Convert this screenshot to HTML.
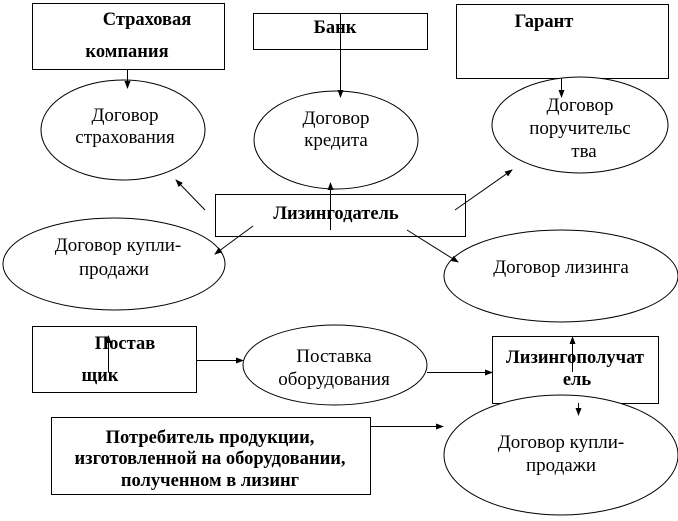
<!DOCTYPE html>
<html><head><meta charset="utf-8"><style>
html,body{margin:0;padding:0;background:#fff;}
svg{display:block;}
text{font-family:"Liberation Serif","Noto Serif CJK SC",serif;font-size:19px;fill:#000;}
.b{font-weight:bold;font-size:18.5px;}
</style></head><body>
<svg width="678" height="521" viewBox="0 0 678 521" xmlns="http://www.w3.org/2000/svg">
<defs><marker id="a" markerWidth="8" markerHeight="8" refX="7" refY="4" orient="auto" markerUnits="userSpaceOnUse"><path d="M0,1 L8,4 L0,7 z" fill="#000"/></marker></defs>
<g fill="#fff" stroke="#000" stroke-width="1">
<rect x="32.5" y="3.5" width="192" height="66"/>
<rect x="253.5" y="13.5" width="174" height="36"/>
<rect x="456.5" y="4.5" width="212" height="74"/>
<ellipse cx="123" cy="130" rx="82" ry="50"/>
<ellipse cx="336" cy="140" rx="82" ry="49"/>
<ellipse cx="580" cy="125" rx="88" ry="48"/>
<rect x="215.5" y="194.5" width="250" height="42"/>
<ellipse cx="114" cy="264" rx="111" ry="46"/>
<ellipse cx="561" cy="276" rx="117" ry="46"/>
<rect x="32.5" y="326.5" width="164" height="66"/>
<ellipse cx="335" cy="365" rx="92" ry="40"/>
<rect x="492.5" y="336.5" width="166" height="67"/>
<rect x="51.5" y="417.5" width="319" height="77"/>
<ellipse cx="561" cy="455" rx="117" ry="60"/>
</g>
<g stroke="#000" stroke-width="1" fill="none" marker-end="url(#a)">
<line x1="127.5" y1="69" x2="127.5" y2="88"/>
<line x1="340.5" y1="13" x2="340.5" y2="97"/>
<line x1="561.5" y1="78" x2="561.5" y2="97"/>
<line x1="330.5" y1="230" x2="330.5" y2="183"/>
<line x1="205" y1="210" x2="176" y2="180"/>
<line x1="455" y1="210" x2="512" y2="170"/>
<line x1="253" y1="226" x2="215" y2="254"/>
<line x1="407" y1="230" x2="458" y2="262"/>
<line x1="196" y1="360.5" x2="243" y2="360.5"/>
<line x1="427" y1="372.5" x2="492" y2="372.5"/>
<line x1="572.5" y1="372" x2="572.5" y2="337"/>
<line x1="578.5" y1="403" x2="578.5" y2="415"/>
<line x1="370" y1="426.5" x2="443" y2="426.5"/>
<line x1="108.5" y1="372" x2="108.5" y2="336"/>
</g>
<text class="b" x="147" y="25" text-anchor="middle">Страховая</text>
<text class="b" x="127" y="57" text-anchor="middle">компания</text>
<text class="b" x="335" y="33" text-anchor="middle">Банк</text>
<text class="b" x="544" y="27" text-anchor="middle">Гарант</text>
<text x="125" y="121" text-anchor="middle">Договор</text>
<text x="125" y="143" text-anchor="middle">страхования</text>
<text x="336" y="124" text-anchor="middle">Договор</text>
<text x="336" y="146" text-anchor="middle">кредита</text>
<text x="580" y="111" text-anchor="middle">Договор</text>
<text x="580" y="134" text-anchor="middle">поручительс</text>
<text x="584" y="157" text-anchor="middle">тва</text>
<text class="b" x="336" y="219" text-anchor="middle">Лизингодатель</text>
<text x="118" y="251" text-anchor="middle">Договор купли-</text>
<text x="114" y="275" text-anchor="middle">продажи</text>
<text x="561" y="273" text-anchor="middle">Договор лизинга</text>
<text class="b" x="125" y="349" text-anchor="middle">Постав</text>
<text class="b" x="100" y="381" text-anchor="middle">щик</text>
<text x="334" y="362" text-anchor="middle">Поставка</text>
<text x="334" y="385" text-anchor="middle">оборудования</text>
<text class="b" x="575" y="363" text-anchor="middle">Лизингополучат</text>
<text class="b" x="577" y="385" text-anchor="middle">ель</text>
<text class="b" x="210" y="443" text-anchor="middle">Потребитель продукции,</text>
<text class="b" x="210" y="464" text-anchor="middle">изготовленной на оборудовании,</text>
<text class="b" x="210" y="486" text-anchor="middle">полученном в лизинг</text>
<text x="561" y="448" text-anchor="middle">Договор купли-</text>
<text x="561" y="471" text-anchor="middle">продажи</text>
</svg>
</body></html>
